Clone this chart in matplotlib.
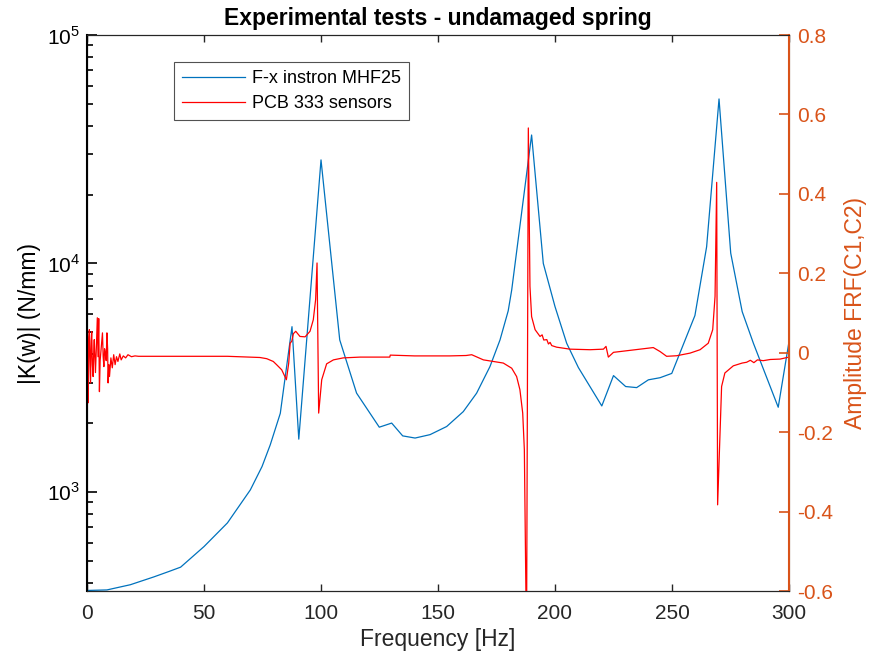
import numpy as np
import matplotlib.pyplot as plt
from matplotlib.ticker import LogLocator, NullFormatter, FixedLocator

plt.rcParams['font.family'] = ['Liberation Sans', 'DejaVu Sans']
plt.rcParams['mathtext.fontset'] = 'custom'
plt.rcParams['mathtext.rm'] = 'Liberation Sans'

# ---------- data ----------
# F-x instron MHF25 : stiffness |K(w)| (N/mm), left log axis
freq_k = [0, 8.5, 18.5, 28.5, 35, 40, 50, 60, 69.8, 74.8, 78.3, 82.6, 87.6, 90.5,
          100, 108, 115.2, 124.9, 130.2, 134.9, 140.2, 146.6, 153.7, 160.8, 166.5,
          172.2, 176.5, 180, 181.5, 190, 195, 200, 205, 210, 220, 225, 230.2, 234.9,
          239.9, 244.9, 249.9, 259.8, 264.8, 270.1, 275.1, 280, 284.8, 295.4, 300]
stiff_k = [370, 372, 392, 424, 448, 468, 576, 731, 1020, 1291, 1606, 2207, 5286, 1701,
           28400, 4625, 2705, 1919, 2000, 1758, 1720, 1780, 1932, 2245, 2704,
           3535, 4625, 6200, 7656, 36500, 10000, 6473, 4470, 3500, 2377, 3228, 2891, 2860,
           3093, 3160, 3300, 5915, 11830, 52500, 11090, 6150, 4470, 2346, 4540]

# PCB 333 sensors : amplitude FRF(C1,C2), right axis
freq_p = [0, 0.3, 0.5, 0.8, 1.0, 1.3, 1.5, 1.8, 2.0, 2.3, 2.6, 2.9, 3.1, 3.4, 3.6,
          4.0, 4.4, 4.7, 5.0, 5.3, 5.6, 6.0, 6.3, 6.6, 6.9, 7.2, 7.5, 7.8,
          8.2, 8.5, 8.8, 9.0, 9.3, 9.6, 10.2, 10.8, 11.4, 12.0, 12.6, 13.2, 14.0, 14.6,
          15.5, 16.5, 17.5, 19.0, 20.5, 22, 40, 60, 73.9, 76.8, 79.6, 81, 83.2, 85.2,
          86.2, 86.8, 87.5, 88.2, 89.2, 91, 93.2, 95.3, 96.7, 97.7, 98.3, 99.0, 100.3,
          102.4, 105.3, 109.5, 116.7, 129.4, 129.6, 140, 155, 162, 164.4, 169.4, 173.6,
          177.9, 181.5, 183.6, 185, 186.2, 186.9, 187.6, 187.9, 188.6, 189.3, 190, 191.5,
          193.6, 194.5, 195.2, 196.5, 197.2, 197.9, 198.6, 200.7, 206.4, 215, 220.7,
          221.8, 222.8, 225, 232, 242, 244.9, 247.7, 252, 257.7, 262, 265.5, 267.4,
          268.4, 269.1, 269.5, 271.2, 272.6, 276.2, 280, 281.9, 283.5, 285, 286.5, 289,
          292, 296.2, 300]
amp_p = [0.075, 0.02, -0.126, 0.04, 0.058, -0.02, -0.076, 0.03, 0.053, -0.03, -0.06,
         0.01, 0.033, -0.02, -0.05, 0.015, 0.088, -0.01, 0.086, -0.098, -0.02, 0.008,
         0.03, 0.05, -0.01, -0.035, 0.01, 0.0, -0.02, 0.05, 0.01, -0.076, -0.03, -0.06,
         -0.013, -0.038, -0.005, -0.03, -0.01, -0.022, -0.003, -0.018, -0.008, -0.013,
         -0.005, -0.01, -0.008, -0.009, -0.009, -0.009, -0.012, -0.015, -0.022, -0.03,
         -0.043, -0.068, -0.026, 0.024, 0.029, 0.048, 0.054, 0.041, 0.04, 0.054, 0.083,
         0.134, 0.226, -0.152, -0.068, -0.028, -0.018, -0.013, -0.011, -0.011, -0.006,
         -0.008, -0.008, -0.007, -0.005, -0.018, -0.022, -0.026, -0.039, -0.06, -0.093,
         -0.152, -0.244, -0.62, -0.62, 0.566, 0.167, 0.091, 0.058, 0.041, 0.045, 0.032,
         0.033, 0.022, 0.026, 0.018, 0.014, 0.009, 0.0076, 0.009, 0.016, -0.011, 0.001,
         0.006, 0.013, 0.003, -0.009, -0.0076, -0.001, 0.0076, 0.024, 0.058, 0.142,
         0.429, -0.383, -0.085, -0.051, -0.033, -0.026, -0.024, -0.019, -0.025, -0.018,
         -0.02, -0.017, -0.016, -0.011]

blue = '#0072BD'
orange = '#D95319'
dark = '#262626'

fig = plt.figure(figsize=(8.72, 6.61), dpi=100)
ax = fig.add_axes([0.0998, 0.1059, 0.8050, 0.8411])
ax2 = ax.twinx()

l1, = ax.plot(freq_k, stiff_k, color=blue, lw=0.9, label='F-x instron MHF25')
l2, = ax2.plot(freq_p, amp_p, color='#FF0000', lw=0.9, label='PCB 333 sensors')

ax.set_yscale('log')
ax.set_xlim(0, 300)
ax.set_ylim(368, 1e5)
ax2.set_ylim(-0.6, 0.8)

ax.set_xticks([0, 50, 100, 150, 200, 250, 300])
ax.yaxis.set_major_locator(FixedLocator([1e3, 1e4, 1e5]))
ax.yaxis.set_minor_locator(LogLocator(base=10, subs=np.arange(2, 10)))
ax.yaxis.set_minor_formatter(NullFormatter())
ax.set_yticklabels([r'$10^3$', r'$10^4$', r'$10^5$'])
ax2.set_yticks([-0.6, -0.4, -0.2, 0, 0.2, 0.4, 0.6, 0.8])
ax2.set_yticklabels(['-0.6', '-0.4', '-0.2', '0', '0.2', '0.4', '0.6', '0.8'])

ax.tick_params(axis='x', direction='in', length=5, width=1, top=True, colors=dark,
               labelsize=15, pad=9)
ax.tick_params(axis='y', which='major', direction='in', length=7, width=1.2,
               colors='black', labelsize=15, pad=5)
ax.tick_params(axis='y', which='minor', direction='in', length=4, width=1.2, colors='black')
ax2.tick_params(axis='y', direction='in', length=7, width=1.2, colors=orange,
                labelsize=15, pad=6)

for s in ['top', 'bottom']:
    ax2.spines[s].set_color(dark)
    ax2.spines[s].set_linewidth(0.8)
ax2.spines['left'].set_color('black')
ax2.spines['left'].set_linewidth(1.5)
ax2.spines['right'].set_color(orange)
ax2.spines['right'].set_linewidth(1.5)

ax.set_xlabel('Frequency [Hz]', fontsize=16.5, color=dark, labelpad=4)
ax.set_ylabel('|K(w)| (N/mm)', fontsize=16.5, color='black', labelpad=4)
ax2.set_ylabel('Amplitude FRF(C1,C2)', fontsize=16.5, color=orange, labelpad=8)
ax.set_title('Experimental tests - undamaged spring', fontsize=16.5, fontweight='bold', pad=7)

leg = ax2.legend([l1, l2], [l1.get_label(), l2.get_label()], loc='upper left',
                 bbox_to_anchor=(0.124, 0.952), fontsize=13, frameon=True, fancybox=False,
                 handlelength=3.5, borderpad=0.45, labelspacing=0.45, handletextpad=0.35,
                 borderaxespad=0)
leg.get_frame().set_edgecolor(dark)
leg.get_frame().set_linewidth(0.8)

fig.savefig('out.png', dpi=100)
